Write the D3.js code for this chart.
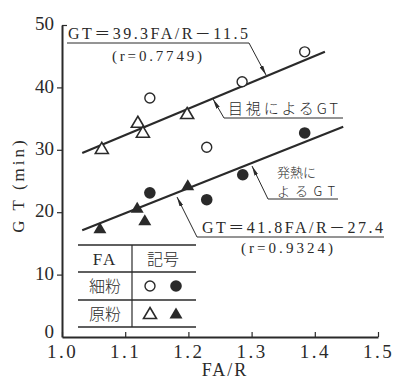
<!DOCTYPE html>
<html>
<head>
<meta charset="utf-8">
<script src="https://cdn.jsdelivr.net/npm/d3@7"></script>
<style>
  body { margin: 0; background: #fff; }
  text { font-family: "Liberation Serif", "Noto Sans CJK JP", serif; fill: #2a2a2a; }
  .jp { font-family: "Noto Sans CJK JP", sans-serif; font-weight: 300; }
</style>
</head>
<body>
<div id="chart"></div>
<script>
// data
const xTicks = [1.0, 1.1, 1.2, 1.3, 1.4, 1.5];
const yTicks = [0, 10, 20, 30, 40, 50];

// fine FA (細粉): open = visual GT, filled = heat GT
const openCircleFA = [1.139, 1.229, 1.285, 1.384];
const openCircleGT = [38.3, 30.4, 40.9, 45.7];
const fillCircleFA = [1.139, 1.229, 1.286, 1.384];
const fillCircleGT = [23.1, 22.0, 26.0, 32.7];
// raw FA (原粉)
const openTriFA = [1.063, 1.120, 1.128, 1.198];
const openTriGT = [30.3, 34.5, 32.9, 35.9];
const fillTriFA = [1.060, 1.119, 1.131, 1.199];
const fillTriGT = [17.5, 20.8, 18.8, 24.4];

// regression lines (end points as drawn)
const visualLine = [[1.032, 29.5], [1.416, 45.7]];
const heatLine = [[1.032, 17.1], [1.445, 33.7]];

const ink = "#2a2a2a";
const width = 393, height = 379;

var svg = d3.select("#chart").append("svg")
  .attr("width", width)
  .attr("height", height);

var x = d3.scaleLinear().domain([1.0, 1.5]).range([62, 378]);
var y = d3.scaleLinear().domain([0, 50]).range([337, 25]);

svg.append("defs").append("marker")
  .attr("id", "arr")
  .attr("viewBox", "0 0 10 4")
  .attr("refX", 10).attr("refY", 2)
  .attr("markerWidth", 10).attr("markerHeight", 4)
  .attr("markerUnits", "userSpaceOnUse")
  .attr("orient", "auto")
  .append("path")
  .attr("d", "M0,0 L10,2 L0,4 Z")
  .attr("fill", ink);

// X axis
var xAxis = svg.append("g")
  .attr("transform", "translate(0," + y(0) + ")")
  .call(d3.axisBottom(x).tickValues(xTicks).tickFormat(d3.format(".1f"))
    .tickSize(-5).tickSizeOuter(0).tickPadding(6));
xAxis.select(".domain").attr("stroke", ink).attr("stroke-width", 2);
xAxis.selectAll(".tick line").attr("stroke", ink).attr("stroke-width", 1.2);
xAxis.selectAll("text")
  .attr("fill", ink)
  .style("font-size", "19px")
  .style("letter-spacing", "2.5px")
  .attr("dy", "0.8em");

// Y axis
var yAxis = svg.append("g")
  .attr("transform", "translate(" + x(1.0) + ",0)")
  .call(d3.axisLeft(y).tickValues(yTicks).tickSize(5).tickSizeOuter(0).tickPadding(3));
yAxis.select(".domain").attr("stroke", ink).attr("stroke-width", 2);
yAxis.selectAll(".tick line").attr("stroke", ink).attr("stroke-width", 1.2)
  .attr("x2", d => d == 50 ? 5 : (d == 0 ? 0 : -5));
yAxis.selectAll("text")
  .attr("fill", ink)
  .style("font-size", "19px")
  .attr("dy", d => d == 0 ? "0.05em" : "0.25em");

// axis titles
svg.append("text")
  .attr("x", 225).attr("y", 376)
  .attr("text-anchor", "middle")
  .style("font-size", "18px")
  .style("letter-spacing", "2px")
  .text("FA/R");

svg.append("text")
  .attr("transform", "translate(24,185) rotate(-90)")
  .attr("text-anchor", "middle")
  .style("font-size", "17px")
  .style("letter-spacing", "3px")
  .text("G T (min)");

// regression lines
var line = d3.line().x(d => x(d[0])).y(d => y(d[1]));
[visualLine, heatLine].forEach(function(l) {
  svg.append("path")
    .attr("d", line(l))
    .attr("fill", "none")
    .attr("stroke", ink)
    .attr("stroke-width", 2.2);
});

// markers
function pts(fa, gt) { return fa.map((v, i) => ({fa: v, gt: gt[i]})); }
function tri(cx, cy) {
  var w = 6.5, h = 5.5;
  return "M" + cx + "," + (cy - h) + "L" + (cx + w) + "," + (cy + h) + "L" + (cx - w) + "," + (cy + h) + "Z";
}

svg.selectAll("circle.open")
  .data(pts(openCircleFA, openCircleGT)).enter().append("circle")
  .attr("class", "open")
  .attr("cx", d => x(d.fa)).attr("cy", d => y(d.gt))
  .attr("r", 5)
  .attr("fill", "#fff").attr("stroke", ink).attr("stroke-width", 1.4);

svg.selectAll("circle.fill")
  .data(pts(fillCircleFA, fillCircleGT)).enter().append("circle")
  .attr("class", "fill")
  .attr("cx", d => x(d.fa)).attr("cy", d => y(d.gt))
  .attr("r", 5.8)
  .attr("fill", ink);

svg.selectAll("path.opentri")
  .data(pts(openTriFA, openTriGT)).enter().append("path")
  .attr("class", "opentri")
  .attr("d", d => tri(x(d.fa), y(d.gt)))
  .attr("fill", "#fff").attr("stroke", ink).attr("stroke-width", 1.6);

svg.selectAll("path.filltri")
  .data(pts(fillTriFA, fillTriGT)).enter().append("path")
  .attr("class", "filltri")
  .attr("d", d => tri(x(d.fa), y(d.gt)))
  .attr("fill", ink);

// annotations
function leader(pts) {
  svg.append("path")
    .attr("d", d3.line()(pts))
    .attr("fill", "none")
    .attr("stroke", ink)
    .attr("stroke-width", 1)
    .attr("marker-end", "url(#arr)");
}

// upper equation
svg.append("text").attr("x", 68).attr("y", 39)
  .style("font-size", "16px")
  .attr("textLength", 180).attr("lengthAdjust", "spacing")
  .text("GT＝39.3FA/R－11.5");
leader([[67, 43], [249, 43], [266, 75]]);
svg.append("text").attr("x", 157).attr("y", 61)
  .attr("text-anchor", "middle")
  .style("font-size", "15px")
  .attr("textLength", 90).attr("lengthAdjust", "spacing")
  .text("(r=0.7749)");

// 目視によるGT
svg.append("text").attr("class", "jp").attr("x", 228).attr("y", 114)
  .style("font-size", "15px")
  .attr("textLength", 110).attr("lengthAdjust", "spacing")
  .text("目視によるGT");
leader([[343, 118], [224, 118], [213, 99]]);

// 発熱によるGT
svg.append("text").attr("class", "jp").attr("x", 277).attr("y", 177)
  .style("font-size", "13px")
  .text("発熱に");
svg.append("text").attr("class", "jp").attr("x", 277).attr("y", 196)
  .style("font-size", "13px")
  .attr("textLength", 58).attr("lengthAdjust", "spacing")
  .text("よるGT");
leader([[338, 199], [268, 199], [252, 166]]);

// lower equation
svg.append("text").attr("x", 202).attr("y", 233)
  .style("font-size", "16px")
  .attr("textLength", 181).attr("lengthAdjust", "spacing")
  .text("GT＝41.8FA/R－27.4");
leader([[384, 237], [197, 237], [177, 197]]);
svg.append("text").attr("x", 287).attr("y", 253)
  .attr("text-anchor", "middle")
  .style("font-size", "15px")
  .attr("textLength", 92).attr("lengthAdjust", "spacing")
  .text("(r=0.9324)");

// legend table
const rowY = [245, 272, 300, 327];
const tableX = [78, 196];
const divX = 132;
rowY.forEach(function(ry) {
  svg.append("line")
    .attr("x1", tableX[0]).attr("x2", tableX[1])
    .attr("y1", ry).attr("y2", ry)
    .attr("stroke", ink).attr("stroke-width", 1.4);
});
svg.append("line")
  .attr("x1", divX).attr("x2", divX)
  .attr("y1", rowY[0]).attr("y2", rowY[3])
  .attr("stroke", ink).attr("stroke-width", 1.2);

svg.append("text").attr("x", 105).attr("y", 265)
  .attr("text-anchor", "middle").style("font-size", "17px")
  .style("letter-spacing", "2px").text("FA");
svg.append("text").attr("class", "jp").attr("x", 163).attr("y", 265)
  .attr("text-anchor", "middle").style("font-size", "16px").text("記号");
svg.append("text").attr("class", "jp").attr("x", 105).attr("y", 292)
  .attr("text-anchor", "middle").style("font-size", "16px").text("細粉");
svg.append("text").attr("class", "jp").attr("x", 105).attr("y", 320)
  .attr("text-anchor", "middle").style("font-size", "16px").text("原粉");

svg.append("circle").attr("cx", 150).attr("cy", 286).attr("r", 5)
  .attr("fill", "#fff").attr("stroke", ink).attr("stroke-width", 1.4);
svg.append("circle").attr("cx", 176).attr("cy", 286).attr("r", 5.8)
  .attr("fill", ink);
svg.append("path").attr("d", tri(150, 313))
  .attr("fill", "#fff").attr("stroke", ink).attr("stroke-width", 1.6);
svg.append("path").attr("d", tri(176, 313))
  .attr("fill", ink);
</script>
</body>
</html>
